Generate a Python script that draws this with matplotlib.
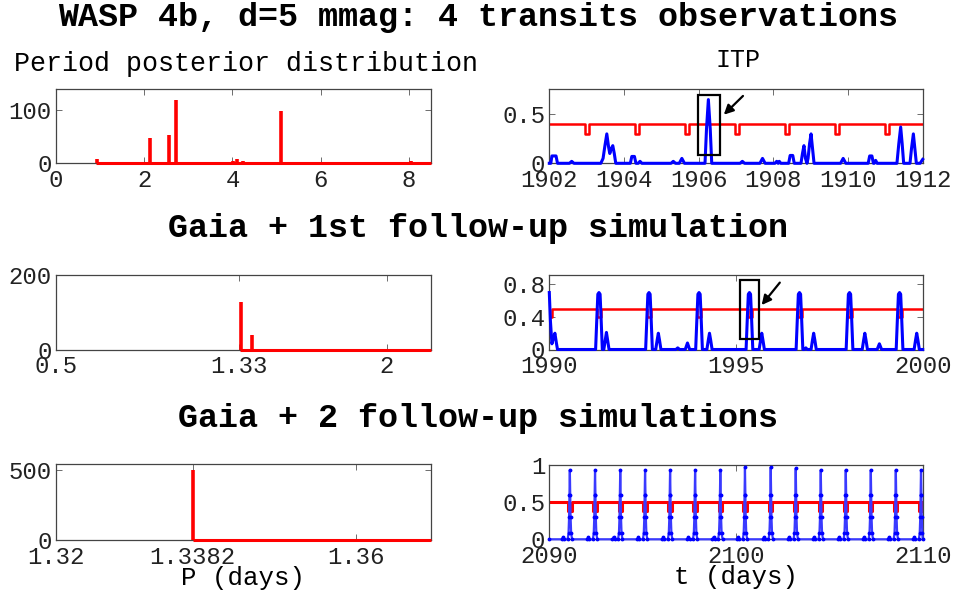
import matplotlib
matplotlib.use("Agg")
import matplotlib.pyplot as plt
from matplotlib.patches import Rectangle

plt.rcParams['font.family'] = ['Liberation Mono', 'DejaVu Sans Mono']

# ---------------- data ----------------
# Period posterior histograms (period in days, counts)
p1_period = [0.92, 2.12, 2.56, 2.73, 2.94, 4.01, 4.10, 4.25, 5.11, 6.87, 8.04]
p1_count = [8, 47, 53, 120, 2, 4, 8, 4, 99, 2, 4]
p1_range = [0.90, 8.5]

p2_period = [1.339, 1.388]
p2_count = [128, 40]
p2_range = [1.335, 2.2]

p3_period = [1.3382]
p3_count = [500]
p3_range = [1.3382, 1.37]

# ITP curves (time, value) knots
itp1_t = [1902.00, 1902.04, 1902.07, 1902.18, 1902.22,
          1902.54, 1902.60, 1902.66,
          1903.38, 1903.44, 1903.49, 1903.54, 1903.59, 1903.62, 1903.66, 1903.70, 1903.74, 1903.78,
          1904.17, 1904.21, 1904.28, 1904.32, 1904.38, 1904.43, 1904.48,
          1905.26, 1905.32, 1905.38, 1905.48, 1905.55, 1905.62,
          1906.17, 1906.21, 1906.26, 1906.31, 1906.35,
          1907.11, 1907.17, 1907.23,
          1907.64, 1907.71, 1907.78,
          1908.04, 1908.09, 1908.13, 1908.16, 1908.20,
          1908.41, 1908.45, 1908.52, 1908.56,
          1908.74, 1908.78, 1908.82, 1908.86, 1908.90, 1908.93, 1908.97, 1909.01, 1909.05, 1909.09,
          1909.80, 1909.87, 1909.94,
          1910.54, 1910.58, 1910.64, 1910.68, 1910.70, 1910.74, 1910.78,
          1911.31, 1911.36, 1911.41, 1911.45, 1911.49,
          1911.66, 1911.70, 1911.75, 1911.79, 1911.83,
          1911.93, 1912.00]
itp1_v = [0.00, 0.00, 0.075, 0.075, 0.00,
          0.00, 0.02, 0.00,
          0.00, 0.05, 0.18, 0.30, 0.16, 0.10, 0.15, 0.18, 0.10, 0.00,
          0.00, 0.07, 0.07, 0.00, 0.00, 0.02, 0.00,
          0.00, 0.02, 0.00, 0.00, 0.05, 0.00,
          0.00, 0.35, 0.65, 0.35, 0.00,
          0.00, 0.02, 0.00,
          0.00, 0.05, 0.00,
          0.00, 0.02, 0.00, 0.02, 0.00,
          0.00, 0.08, 0.08, 0.00,
          0.00, 0.10, 0.18, 0.05, 0.00, 0.05, 0.20, 0.30, 0.15, 0.00,
          0.00, 0.05, 0.00,
          0.00, 0.075, 0.075, 0.00, 0.00, 0.03, 0.00,
          0.00, 0.20, 0.37, 0.20, 0.00,
          0.00, 0.15, 0.30, 0.15, 0.00,
          0.00, 0.04]
thr1_level, thr1_dip = 0.40, 0.30
thr1_dips = [(1902.96, 1903.06), (1904.30, 1904.40), (1905.64, 1905.74), (1906.98, 1907.08),
             (1908.32, 1908.42), (1909.66, 1909.76), (1911.00, 1911.10)]

itp2_t = [1990.00, 1990.03, 1990.07, 1990.11, 1990.15, 1990.19, 1990.22,
          1991.24, 1991.27, 1991.30, 1991.33, 1991.36, 1991.39, 1991.42,
          1991.46, 1991.50, 1991.53, 1991.56, 1991.60,
          1992.58, 1992.61, 1992.64, 1992.67, 1992.70, 1992.73, 1992.76,
          1992.85, 1992.89, 1992.92, 1992.95, 1992.99,
          1993.39, 1993.44, 1993.49, 1993.64, 1993.70, 1993.76,
          1993.92, 1993.95, 1993.98, 1994.01, 1994.04, 1994.07, 1994.10,
          1994.22, 1994.26, 1994.29, 1994.32, 1994.36,
          1995.27, 1995.30, 1995.33, 1995.36, 1995.39, 1995.42, 1995.45,
          1995.62, 1995.66, 1995.69, 1995.72, 1995.76,
          1996.61, 1996.64, 1996.67, 1996.70, 1996.73, 1996.76, 1996.79,
          1996.83, 1996.87, 1996.91,
          1997.01, 1997.05, 1997.08, 1997.11, 1997.15,
          1997.95, 1997.98, 1998.01, 1998.04, 1998.07, 1998.10, 1998.13,
          1998.38, 1998.42, 1998.45, 1998.48, 1998.52,
          1998.78, 1998.84, 1998.90,
          1999.29, 1999.32, 1999.35, 1999.38, 1999.41, 1999.44, 1999.47,
          1999.77, 1999.81, 1999.84, 1999.87, 1999.91, 2000.00]
itp2_v = [0.70, 0.35, 0.07, 0.14, 0.20, 0.08, 0.00,
          0.00, 0.35, 0.68, 0.70, 0.68, 0.35, 0.00,
          0.00, 0.12, 0.21, 0.12, 0.00,
          0.00, 0.35, 0.68, 0.70, 0.68, 0.35, 0.00,
          0.00, 0.12, 0.20, 0.12, 0.00,
          0.00, 0.02, 0.00, 0.00, 0.08, 0.00,
          0.00, 0.35, 0.68, 0.70, 0.68, 0.35, 0.00,
          0.00, 0.12, 0.20, 0.12, 0.00,
          0.00, 0.35, 0.68, 0.70, 0.68, 0.35, 0.00,
          0.00, 0.12, 0.20, 0.12, 0.00,
          0.00, 0.35, 0.68, 0.70, 0.68, 0.35, 0.00,
          0.00, 0.02, 0.00,
          0.00, 0.12, 0.20, 0.12, 0.00,
          0.00, 0.35, 0.68, 0.70, 0.68, 0.35, 0.00,
          0.00, 0.12, 0.20, 0.12, 0.00,
          0.00, 0.07, 0.00,
          0.00, 0.35, 0.68, 0.70, 0.68, 0.35, 0.00,
          0.00, 0.12, 0.20, 0.12, 0.00, 0.00]
thr2_level, thr2_dip = 0.50, 0.40
thr2_dips = [(1989.95, 1990.06), (1991.28, 1991.39), (1992.62, 1992.73), (1993.96, 1994.07),
             (1995.31, 1995.42), (1996.65, 1996.76), (1997.99, 1998.10), (1999.33, 1999.44)]

spike3_t = [2091.10, 2092.45, 2093.80, 2095.13, 2096.47, 2097.81, 2099.16, 2100.48,
            2101.86, 2103.20, 2104.54, 2105.88, 2107.22, 2108.56, 2109.91]
spike3_h = [0.93, 0.93, 0.93, 0.93, 0.93, 0.93, 0.93, 0.965,
            0.965, 0.95, 0.93, 0.93, 0.93, 0.93, 0.93]
bump3_h = 0.03
thr3_level, thr3_dip = 0.50, 0.38

# ---------------- figure ----------------
W, H = 956, 594
fig = plt.figure(figsize=(W / 100, H / 100), dpi=100)


def ax_at(x0, y0, x1, y1):
    return fig.add_axes([x0 / W, 1 - y1 / H, (x1 - x0) / W, (y1 - y0) / H])


TICK_FS = 17.2
RED = '#ff0000'
BLUE = '#0000ff'


def style(ax):
    ax.tick_params(direction='in', length=4, width=0.6, colors='#555555',
                   labelcolor='#222222', labelsize=TICK_FS, top=True, right=True)
    ax.tick_params(axis='x', pad=4)
    ax.tick_params(axis='y', pad=3)
    for s in ax.spines.values():
        s.set_color('#444444')
        s.set_linewidth(0.9)


def hist_panel(ax, per, cnt, rng, xlim, ylim, xt, xtl, yt):
    ax.vlines(per, 0, cnt, color=RED, lw=2.6, zorder=3, clip_on=False)
    ax.hlines(0, rng[0], rng[1], color=RED, lw=2.2, zorder=3, clip_on=False)
    ax.set_xlim(*xlim)
    ax.set_ylim(*ylim)
    ax.set_xticks(xt)
    ax.set_xticklabels(xtl)
    ax.set_yticks(yt)
    ax.set_yticklabels([str(v) for v in yt])
    style(ax)


def thr_line(dips, level, dip, x0, x1):
    xs, ys = [x0], [level]
    for a, b in dips:
        xs += [a, a, b, b]
        ys += [level, dip, dip, level]
    xs.append(x1)
    ys.append(level)
    return xs, ys


# Row 1
axL1 = ax_at(56, 89.3, 431, 163.3)
hist_panel(axL1, p1_period, p1_count, p1_range, (0, 8.5), (0, 140),
           [0, 2, 4, 6, 8], ['0', '2', '4', '6', '8'], [0, 100])

axR1 = ax_at(549.3, 89.3, 922.7, 163.3)
xs, ys = thr_line(thr1_dips, thr1_level, thr1_dip, 1902, 1912)
axR1.plot(xs, ys, color=RED, lw=1.8, zorder=2)
axR1.plot(itp1_t, itp1_v, color=BLUE, lw=2.2, zorder=3, clip_on=False)
axR1.set_xlim(1902, 1912)
axR1.set_ylim(0, 0.755)
axR1.set_xticks([1902, 1904, 1906, 1908, 1910, 1912])
axR1.set_yticks([0, 0.5])
axR1.set_yticklabels(['0', '0.5'])
axR1.add_patch(Rectangle((1905.99, 0.08), 0.58, 0.62, fill=False, ec='k', lw=1.6, zorder=4))
axR1.annotate('', xy=(1906.62, 0.476), xytext=(1907.24, 0.707),
              arrowprops=dict(arrowstyle='-|>', color='k', lw=1.6, mutation_scale=14),
              annotation_clip=False)
style(axR1)

# Row 2
axL2 = ax_at(56, 274.5, 431, 349.7)
hist_panel(axL2, p2_period, p2_count, p2_range, (0.5, 2.2), (0, 200),
           [0.5, 1.33, 2], ['0.5', '1.33', '2'], [0, 200])

axR2 = ax_at(549.3, 274.5, 922.7, 349.5)
xs, ys = thr_line(thr2_dips, thr2_level, thr2_dip, 1990, 2000)
axR2.plot(xs, ys, color=RED, lw=1.8, zorder=2)
axR2.plot(itp2_t, itp2_v, color=BLUE, lw=2.2, zorder=3, clip_on=False)
axR2.set_xlim(1990, 2000)
axR2.set_ylim(0, 0.922)
axR2.set_xticks([1990, 1995, 2000])
axR2.set_yticks([0, 0.4, 0.8])
axR2.set_yticklabels(['0', '0.4', '0.8'])
axR2.add_patch(Rectangle((1995.11, 0.135), 0.50, 0.715, fill=False, ec='k', lw=1.6, zorder=4))
axR2.annotate('', xy=(1995.64, 0.52), xytext=(1996.22, 0.849),
              arrowprops=dict(arrowstyle='-|>', color='k', lw=1.6, mutation_scale=14),
              annotation_clip=False)
style(axR2)

# Row 3
axL3 = ax_at(56, 464, 431, 540)
hist_panel(axL3, p3_period, p3_count, p3_range, (1.32, 1.37), (0, 543),
           [1.32, 1.3382, 1.36], ['1.32', '1.3382', '1.36'], [0, 500])
axL3.set_xlabel('P (days)', fontsize=18.5, labelpad=-2)

axR3 = ax_at(549.3, 464.7, 922.7, 539.3)
dips3 = [(c - 0.09, c + 0.09) for c in spike3_t]
xs, ys = thr_line(dips3, thr3_level, thr3_dip, 2090, 2110)
axR3.plot(xs, ys, color=RED, lw=2.2, zorder=2, clip_on=True)
# spike curve built from measured spike centres/heights
st, sv = [2090.0], [0.0]
for c, h in zip(spike3_t, spike3_h):
    st += [c - 0.42, c - 0.36, c - 0.30, c - 0.12, c - 0.07, c - 0.04, c - 0.02, c,
           c + 0.02, c + 0.04, c + 0.07, c + 0.12]
    sv += [0.0, bump3_h, 0.0, 0.0, 0.08, 0.3, 0.6, h, 0.6, 0.3, 0.08, 0.0]
st.append(2110.0)
sv.append(0.0)
pts = [(a, b) for a, b in zip(st, sv) if a <= 2110.0]
st = [p[0] for p in pts]
sv = [p[1] for p in pts]
axR3.plot(st, sv, color='#3a3aff', lw=1.6, marker='.', ms=3.5, mfc=BLUE, mec=BLUE,
          zorder=3, clip_on=False)
axR3.set_xlim(2090, 2110)
axR3.set_ylim(0, 1.0)
axR3.set_xticks([2090, 2100, 2110])
axR3.set_yticks([0, 0.5, 1])
axR3.set_yticklabels(['0', '0.5', '1'])
axR3.set_xlabel('t (days)', fontsize=18.5, labelpad=-2)
style(axR3)

# Titles
fig.text(0.5, 0.971, 'WASP 4b, d=5 mmag: 4 transits observations', ha='center', va='center',
         fontsize=24, fontweight='bold')
fig.text(0.257, 0.892, 'Period posterior distribution', ha='center', va='center', fontsize=19.2)
fig.text(0.772, 0.899, 'ITP', ha='center', va='center', fontsize=18)
fig.text(0.5, 0.616, 'Gaia + 1st follow-up simulation', ha='center', va='center',
         fontsize=24, fontweight='bold')
fig.text(0.5, 0.296, 'Gaia + 2 follow-up simulations', ha='center', va='center',
         fontsize=24, fontweight='bold')

fig.savefig('out.png', dpi=100)
